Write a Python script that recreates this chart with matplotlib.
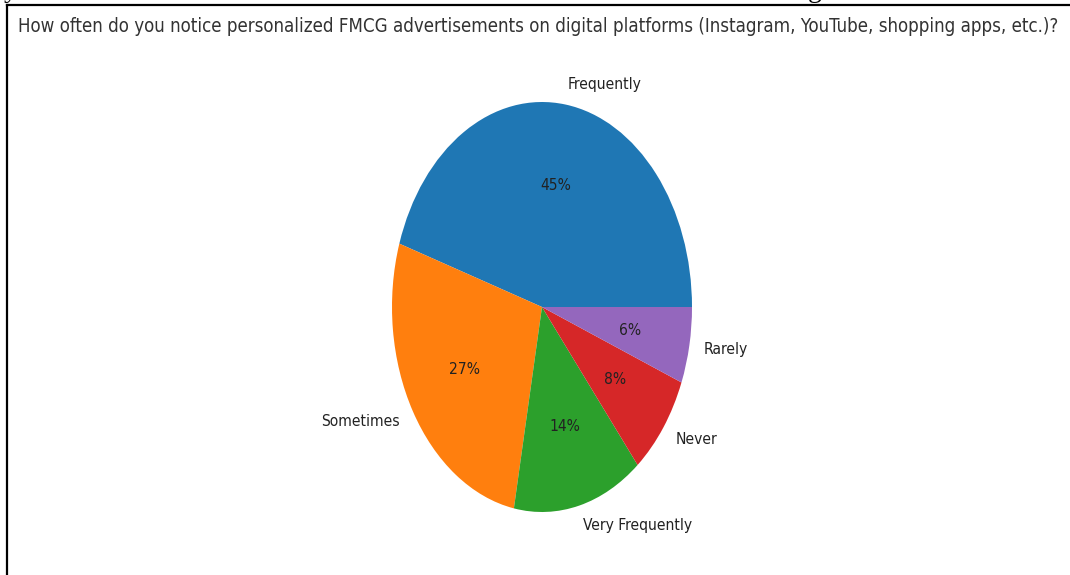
import matplotlib.pyplot as plt
from matplotlib.lines import Line2D

labels = ['Frequently', 'Sometimes', 'Very Frequently', 'Never', 'Rarely']
shares = [45, 27, 14, 8, 6]
question = ('How often do you notice personalized FMCG advertisements on digital '
            'platforms (Instagram, YouTube, shopping apps, etc.)?')

W, H = 1070, 575
fig = plt.figure(figsize=(W / 100, H / 100), dpi=100)

# pie centre and radii in pixels (drawn as an ellipse, taller than wide)
cx, cy, rx, ry = 542, 307, 150, 205
ax = fig.add_axes([(cx - rx) / W, (H - cy - ry) / H, 2 * rx / W, 2 * ry / H])

font = dict(family=['DejaVu Sans'], stretch='condensed')
wedges, texts, autotexts = ax.pie(shares, labels=labels, autopct='%1.0f%%',
                                  textprops=dict(fontsize=11.2, color='#222222', **font))
ax.set_aspect('auto')
ax.set_xlim(-1, 1)
ax.set_ylim(-1, 1)
for t in texts + autotexts:
    t.set_clip_on(False)

fig.text(18 / W, 1 - 27 / H, question, fontsize=13.4, color='#333333',
         ha='left', va='center', **font)

# frame around the chart
fig.add_artist(Line2D([7 / W, 7 / W], [0, 1 - 5 / H], color='black', lw=1.6))
fig.add_artist(Line2D([7 / W, 1], [1 - 5 / H, 1 - 5 / H], color='black', lw=1.6))

# bits of the text line above, cut off at the edge
fig.text(4 / W, 1 + 3 / H, 'y', fontsize=20, family='Liberation Serif', va='baseline')
fig.text(808 / W, 1 + 3 / H, 'g', fontsize=20, family='Liberation Serif', va='baseline')

fig.savefig('out.png', dpi=100)
